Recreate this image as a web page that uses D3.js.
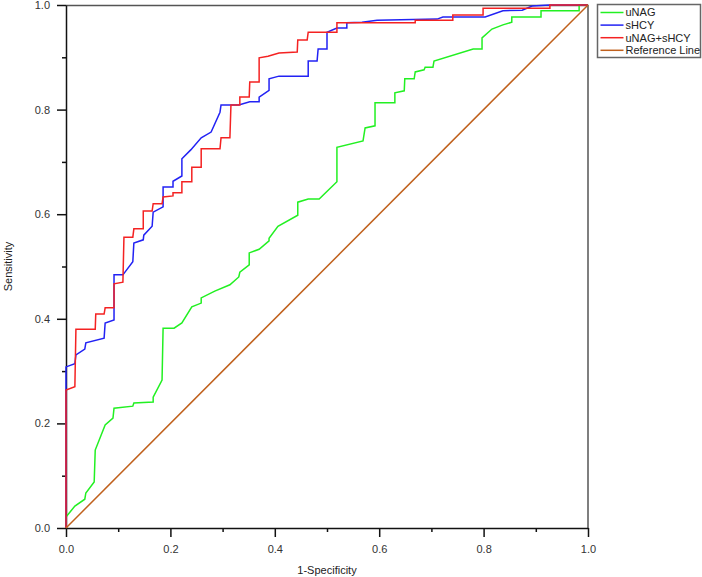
<!DOCTYPE html>
<html lang="en">

<head>
  <meta charset="UTF-8">
  <script src="https://cdn.jsdelivr.net/npm/d3@7"></script>
  <title>ROC</title>
  <style>
    body { margin: 0; background: #fff; }
    text { font-family: "Liberation Sans", Arial, sans-serif; }
  </style>
</head>

<body>
  <svg width="702" height="577"></svg>
</body>
<script>
  // ROC curve points (1-specificity, sensitivity)
  const uNagX = [0, 0, 0.017, 0.036, 0.038, 0.054, 0.056, 0.075, 0.090, 0.092, 0.128, 0.130, 0.167, 0.167, 0.184, 0.186, 0.207, 0.222, 0.241, 0.259, 0.259, 0.285, 0.314, 0.331, 0.333, 0.351, 0.351, 0.370, 0.389, 0.389, 0.406, 0.444, 0.444, 0.464, 0.485, 0.519, 0.519, 0.569, 0.573, 0.592, 0.592, 0.630, 0.630, 0.648, 0.649, 0.667, 0.669, 0.686, 0.688, 0.703, 0.705, 0.780, 0.797, 0.797, 0.816, 0.837, 0.854, 0.854, 0.910, 0.910, 0.983, 0.983, 1];
  const uNagY = [0, 0.021, 0.042, 0.055, 0.067, 0.088, 0.149, 0.197, 0.210, 0.229, 0.233, 0.239, 0.241, 0.250, 0.283, 0.382, 0.382, 0.392, 0.423, 0.430, 0.440, 0.453, 0.465, 0.480, 0.489, 0.503, 0.526, 0.533, 0.549, 0.554, 0.577, 0.598, 0.623, 0.629, 0.629, 0.662, 0.728, 0.740, 0.765, 0.769, 0.813, 0.813, 0.832, 0.836, 0.859, 0.859, 0.872, 0.876, 0.881, 0.881, 0.893, 0.916, 0.916, 0.937, 0.954, 0.962, 0.967, 0.977, 0.977, 0.989, 0.989, 1, 1];

  const sHcyX = [0, 0, 0.017, 0.019, 0.036, 0.038, 0.073, 0.075, 0.092, 0.092, 0.109, 0.128, 0.130, 0.148, 0.149, 0.165, 0.167, 0.186, 0.186, 0.205, 0.205, 0.222, 0.222, 0.239, 0.259, 0.278, 0.295, 0.297, 0.331, 0.352, 0.370, 0.370, 0.389, 0.389, 0.408, 0.464, 0.464, 0.481, 0.483, 0.500, 0.500, 0.519, 0.538, 0.538, 0.567, 0.596, 0.711, 0.722, 0.803, 0.837, 0.874, 0.893, 0.927, 1];
  const sHcyY = [0, 0.308, 0.314, 0.331, 0.342, 0.354, 0.363, 0.392, 0.398, 0.484, 0.484, 0.509, 0.545, 0.551, 0.560, 0.577, 0.604, 0.614, 0.652, 0.652, 0.663, 0.673, 0.706, 0.723, 0.746, 0.757, 0.795, 0.809, 0.809, 0.815, 0.815, 0.824, 0.837, 0.859, 0.864, 0.864, 0.893, 0.893, 0.916, 0.916, 0.948, 0.956, 0.956, 0.966, 0.967, 0.971, 0.973, 0.977, 0.977, 0.989, 0.990, 0.998, 1, 1];

  const comboX = [0, 0, 0.017, 0.019, 0.056, 0.057, 0.073, 0.075, 0.092, 0.092, 0.109, 0.111, 0.128, 0.130, 0.148, 0.148, 0.165, 0.167, 0.184, 0.186, 0.205, 0.205, 0.222, 0.222, 0.241, 0.241, 0.259, 0.259, 0.295, 0.297, 0.314, 0.316, 0.333, 0.333, 0.351, 0.352, 0.370, 0.370, 0.387, 0.408, 0.443, 0.444, 0.462, 0.464, 0.519, 0.519, 0.669, 0.669, 0.741, 0.741, 0.799, 0.799, 0.927, 0.927, 1];
  const comboY = [0, 0.264, 0.270, 0.380, 0.380, 0.409, 0.409, 0.421, 0.421, 0.467, 0.470, 0.556, 0.556, 0.572, 0.572, 0.606, 0.606, 0.620, 0.620, 0.633, 0.635, 0.641, 0.641, 0.662, 0.662, 0.690, 0.690, 0.725, 0.725, 0.746, 0.746, 0.809, 0.809, 0.824, 0.824, 0.853, 0.853, 0.899, 0.902, 0.908, 0.910, 0.933, 0.933, 0.948, 0.948, 0.966, 0.966, 0.971, 0.971, 0.981, 0.981, 0.994, 0.994, 1, 1];

  const refX = [0, 1];
  const refY = [0, 1];

  const seriesNames = ["uNAG", "sHCY", "uNAG+sHCY", "Reference Line"];
  const seriesColors = ["#22f022", "#2222f4", "#f42222", "#c0601c"];
  const majorTicks = [0, 0.2, 0.4, 0.6, 0.8, 1.0];
  const minorTicks = [0.1, 0.3, 0.5, 0.7, 0.9];

  const svg = d3.select("svg");
  const margin = { left: 66, top: 5, right: 114, bottom: 49 };
  const innerWidth = 702 - margin.left - margin.right;
  const innerHeight = 577 - margin.top - margin.bottom;

  const chart = svg.append("g")
    .attr("transform", "translate(" + margin.left + "," + margin.top + ")");

  const xScale = d3.scaleLinear().domain([0, 1]).range([0, innerWidth]);
  const yScale = d3.scaleLinear().domain([0, 1]).range([innerHeight, 0]);

  // frame (top and right)
  chart.append("path")
    .attr("d", "M0,0.5H" + innerWidth + "V" + innerHeight)
    .attr("fill", "none")
    .attr("stroke", "#555")
    .attr("stroke-width", 1.5);

  // minor ticks
  chart.append("g")
    .attr("transform", "translate(0," + innerHeight + ")")
    .call(d3.axisBottom(xScale).tickValues(minorTicks).tickSize(4).tickFormat(""))
    .call(g => g.select(".domain").remove());
  chart.append("g")
    .call(d3.axisLeft(yScale).tickValues(minorTicks).tickSize(4).tickFormat(""))
    .call(g => g.select(".domain").remove());

  // major axes
  const xAxis = chart.append("g")
    .attr("transform", "translate(0," + innerHeight + ")")
    .call(d3.axisBottom(xScale).tickValues(majorTicks).tickSize(9).tickSizeOuter(0)
      .tickPadding(8).tickFormat(d3.format(".1f")));
  const yAxis = chart.append("g")
    .call(d3.axisLeft(yScale).tickValues(majorTicks).tickSize(9).tickSizeOuter(0)
      .tickPadding(7).tickFormat(d3.format(".1f")));

  chart.selectAll(".tick line, .domain").attr("stroke", "#111").attr("stroke-width", 1.5);
  chart.selectAll(".tick text").attr("fill", "#333").style("font-size", "11px")
    .style("font-family", "'Liberation Sans', Arial, sans-serif");

  // curves
  const line = d3.line()
    .x(d => xScale(d[0]))
    .y(d => yScale(d[1]));

  const series = [
    d3.zip(uNagX, uNagY),
    d3.zip(sHcyX, sHcyY),
    d3.zip(comboX, comboY),
    d3.zip(refX, refY)
  ];

  chart.append("g")
    .selectAll("path")
    .data(series)
    .join("path")
    .attr("d", line)
    .attr("fill", "none")
    .attr("stroke", (d, i) => seriesColors[i])
    .attr("stroke-width", 1.5)
    .attr("stroke-linejoin", "miter");

  // axis titles
  svg.append("text")
    .attr("x", margin.left + innerWidth / 2)
    .attr("y", 574)
    .attr("text-anchor", "middle")
    .attr("fill", "#222")
    .style("font-size", "11px")
    .text("1-Specificity");

  svg.append("text")
    .attr("transform", "translate(12," + (margin.top + innerHeight / 2) + ") rotate(-90)")
    .attr("text-anchor", "middle")
    .attr("fill", "#222")
    .style("font-size", "11px")
    .text("Sensitivity");

  // legend
  const legend = svg.append("g").attr("transform", "translate(597.5,4.5)");
  legend.append("rect")
    .attr("width", 103)
    .attr("height", 53)
    .attr("fill", "#fff")
    .attr("stroke", "#666")
    .attr("stroke-width", 1.5);

  const item = legend.selectAll(".legend-item")
    .data(seriesNames)
    .join("g")
    .attr("class", "legend-item")
    .attr("transform", (d, i) => "translate(0," + (8 + i * 12.6) + ")");

  item.append("line")
    .attr("x1", 3)
    .attr("x2", 26)
    .attr("stroke", (d, i) => seriesColors[i])
    .attr("stroke-width", 1.5);

  item.append("text")
    .attr("x", 28)
    .attr("dy", "0.35em")
    .attr("fill", "#222")
    .style("font-size", "11px")
    .text(d => d);
</script>

</html>
